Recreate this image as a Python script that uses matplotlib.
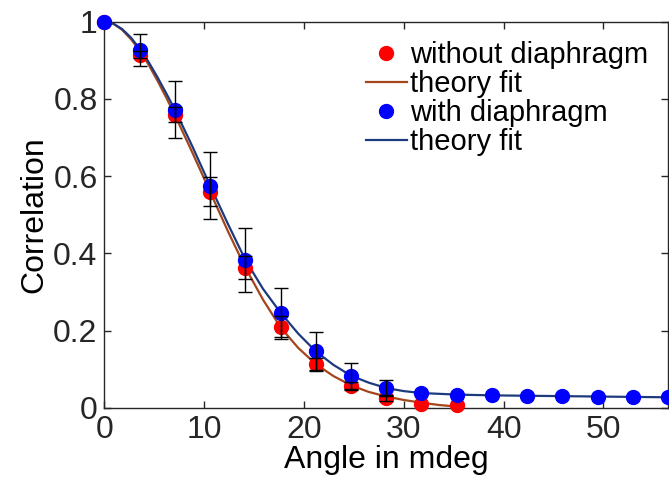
import matplotlib
matplotlib.use("Agg")
import matplotlib.pyplot as plt
import numpy as np

plt.rcParams['font.family'] = ['Liberation Sans', 'DejaVu Sans']

# measured angles (mdeg)
step = 3.53
angle_red = np.arange(11) * step
angle_blue = np.arange(17) * step

# correlation without diaphragm
corr_red = [1.0, 0.915, 0.759, 0.560, 0.363, 0.208, 0.114, 0.057, 0.026, 0.010, 0.006]
err_red = [0, 0.010, 0.019, 0.037, 0.030, 0.030, 0.016, 0.010, 0.008, 0, 0]

# correlation with diaphragm
corr_blue = [1.0, 0.927, 0.772, 0.575, 0.383, 0.246, 0.146, 0.083, 0.051,
             0.038, 0.034, 0.032, 0.031, 0.030, 0.029, 0.028, 0.027]
err_blue = [0, 0.041, 0.074, 0.087, 0.082, 0.064, 0.050, 0.034, 0.021,
            0, 0, 0, 0, 0, 0, 0, 0]

# theory fit curves (quarter steps at the top, half steps after)
fit_x_red = np.concatenate([np.arange(8) * step / 4, np.arange(4, 21) * step / 2])
fit_red = [1.0, 0.995, 0.979, 0.955, 0.925, 0.889, 0.848, 0.804,
           0.758, 0.660, 0.559, 0.458, 0.363, 0.280,
           0.208, 0.155, 0.113, 0.082, 0.058, 0.041, 0.029, 0.020, 0.013, 0.007, 0.003]
fit_x_blue = np.concatenate([np.arange(8) * step / 4, np.arange(4, 33) * step / 2])
fit_blue = [1.0, 0.995, 0.981, 0.959, 0.930, 0.896, 0.857, 0.815,
            0.772, 0.676, 0.575, 0.477, 0.383, 0.308,
            0.246, 0.192, 0.146, 0.111, 0.083, 0.065, 0.051, 0.043, 0.038, 0.036,
            0.034, 0.033, 0.032, 0.0315, 0.031, 0.0305, 0.030, 0.0295, 0.029,
            0.0285, 0.028, 0.0275, 0.027]

red_line = '#A3461C'
blue_line = '#1E3A7E'
axis_col = '#262626'

fig = plt.figure(figsize=(6.69, 4.87), dpi=100)
ax = fig.add_axes([0.1562, 0.1628, 0.8423, 0.7926])

ax.plot(angle_red, corr_red, 'o', color='#FF0000', markersize=10, clip_on=False,
        zorder=3, label='without diaphragm')
ax.plot(fit_x_red, fit_red, '-', color=red_line, lw=1.6, zorder=2, label='theory fit')
ax.plot(angle_blue, corr_blue, 'o', color='#0000FF', markersize=10, clip_on=False,
        zorder=4, label='with diaphragm')
ax.plot(fit_x_blue, fit_blue, '-', color=blue_line, lw=1.6, zorder=2, label='theory fit')

ax.errorbar(angle_red[1:9], corr_red[1:9], yerr=err_red[1:9], fmt='none',
            ecolor='black', elinewidth=1, capsize=4.7, capthick=1, zorder=5)
ax.errorbar(angle_blue[1:9], corr_blue[1:9], yerr=err_blue[1:9], fmt='none',
            ecolor='black', elinewidth=1, capsize=4.7, capthick=1, zorder=5)

ax.set_xlim(0, 16 * step)
ax.set_ylim(0, 1)
ax.set_xticks([0, 10, 20, 30, 40, 50])
ax.set_yticks([0, 0.2, 0.4, 0.6, 0.8, 1])
ax.set_yticklabels(['0', '0.2', '0.4', '0.6', '0.8', '1'])
ax.tick_params(direction='in', length=5, width=1, top=True, right=True,
               labelsize=23, colors=axis_col, labelcolor=axis_col, pad=5)
for s in ax.spines.values():
    s.set_color(axis_col)
    s.set_linewidth(1)

ax.set_xlabel('Angle in mdeg', fontsize=23, labelpad=0)
ax.set_ylabel('Correlation', fontsize=23, labelpad=3)

leg = ax.legend(loc='upper right', bbox_to_anchor=(0.995, 0.995), frameon=False,
                fontsize=21, handlelength=1.4, handletextpad=0.1,
                labelspacing=0.03, borderaxespad=0.2, numpoints=1)

fig.savefig('out.png', dpi=100)
